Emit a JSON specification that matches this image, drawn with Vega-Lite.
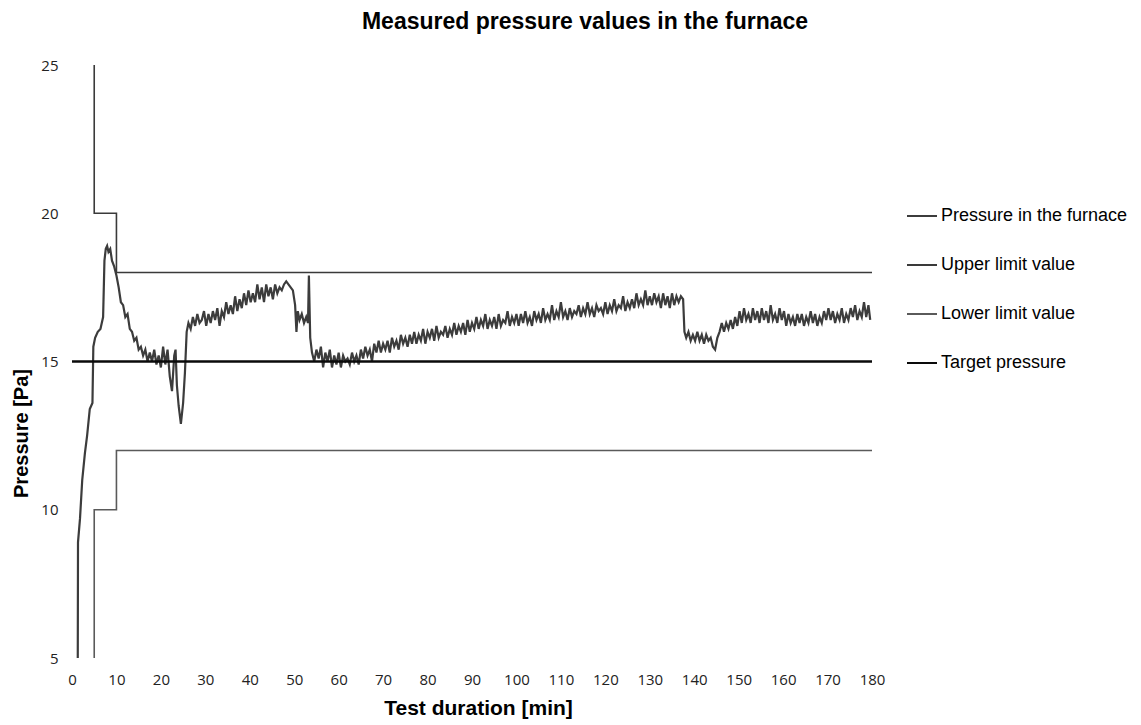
{
  "$schema": "https://vega.github.io/schema/vega-lite/v6.json",
  "width": 800,
  "height": 593,
  "autosize": {"type": "none"},
  "padding": {"left": 72, "top": 65, "right": 269, "bottom": 67},
  "background": "white",
  "title": {"text": "Measured pressure values in the furnace", "font": "Liberation Sans", "fontSize": 23, "fontWeight": "bold", "color": "#000", "anchor": "middle", "dx": 113, "offset": 24},
  "datasets": {
    "pressure": [
      {"t":1.3,"p":5.0},{"t":1.35,"p":8.9},{"t":1.8,"p":9.7},{"t":2.3,"p":11.0},{"t":2.9,"p":11.9},{"t":3.4,"p":12.5},{"t":4.0,"p":13.4},{"t":4.6,"p":13.6},{"t":4.8,"p":15.5},{"t":5.2,"p":15.8},{"t":5.8,"p":16.0},{"t":6.4,"p":16.1},{"t":7.0,"p":16.5},{"t":7.3,"p":18.4},{"t":7.6,"p":18.8},{"t":7.9,"p":18.9},{"t":8.2,"p":18.7},{"t":8.6,"p":18.8},{"t":9.0,"p":18.4},{"t":9.5,"p":18.2},{"t":10.0,"p":17.9},{"t":10.5,"p":17.5},{"t":11.0,"p":17.0},{"t":11.5,"p":16.9},{"t":12.0,"p":16.5},{"t":12.5,"p":16.6},{"t":13.0,"p":16.1},{"t":13.5,"p":16.0},{"t":14.0,"p":15.7},{"t":14.5,"p":15.8},{"t":15.0,"p":15.4},{"t":15.5,"p":15.5},{"t":16.0,"p":15.2},{"t":16.5,"p":15.4},{"t":17.0,"p":15.0},{"t":17.5,"p":15.3},{"t":18.0,"p":15.0},{"t":18.5,"p":15.4},{"t":19.0,"p":14.9},{"t":19.5,"p":15.2},{"t":20.0,"p":14.8},{"t":20.5,"p":15.5},{"t":21.0,"p":14.9},{"t":21.5,"p":15.4},{"t":22.0,"p":14.5},{"t":22.5,"p":14.0},{"t":23.0,"p":15.2},{"t":23.3,"p":15.4},{"t":23.6,"p":14.2},{"t":24.0,"p":13.5},{"t":24.5,"p":12.9},{"t":25.0,"p":13.6},{"t":25.4,"p":14.6},{"t":25.8,"p":16.0},{"t":26.2,"p":16.3},{"t":26.7,"p":16.1},{"t":27.2,"p":16.5},{"t":27.7,"p":16.2},{"t":28.2,"p":16.6},{"t":28.7,"p":16.3},{"t":29.2,"p":16.4},{"t":29.7,"p":16.7},{"t":30.2,"p":16.2},{"t":30.7,"p":16.6},{"t":31.2,"p":16.3},{"t":31.7,"p":16.7},{"t":32.2,"p":16.4},{"t":32.7,"p":16.8},{"t":33.2,"p":16.2},{"t":33.7,"p":16.7},{"t":34.2,"p":16.5},{"t":34.7,"p":17.0},{"t":35.2,"p":16.6},{"t":35.7,"p":16.9},{"t":36.2,"p":16.6},{"t":36.7,"p":17.2},{"t":37.2,"p":16.7},{"t":37.7,"p":17.1},{"t":38.2,"p":16.8},{"t":38.7,"p":17.3},{"t":39.2,"p":16.9},{"t":39.7,"p":17.4},{"t":40.2,"p":17.0},{"t":40.7,"p":17.3},{"t":41.2,"p":17.0},{"t":41.7,"p":17.6},{"t":42.2,"p":17.1},{"t":42.7,"p":17.5},{"t":43.2,"p":17.0},{"t":43.7,"p":17.6},{"t":44.2,"p":17.2},{"t":44.7,"p":17.5},{"t":45.2,"p":17.1},{"t":45.7,"p":17.6},{"t":46.2,"p":17.3},{"t":46.7,"p":17.5},{"t":47.2,"p":17.4},{"t":47.7,"p":17.6},{"t":48.2,"p":17.7},{"t":48.7,"p":17.6},{"t":49.2,"p":17.5},{"t":49.7,"p":17.4},{"t":50.2,"p":16.9},{"t":50.5,"p":16.0},{"t":50.8,"p":16.7},{"t":51.2,"p":16.4},{"t":51.7,"p":16.6},{"t":52.2,"p":16.3},{"t":52.7,"p":16.5},{"t":53.1,"p":16.3},{"t":53.3,"p":17.9},{"t":53.6,"p":15.8},{"t":54.0,"p":15.3},{"t":54.5,"p":15.0},{"t":55.0,"p":15.4},{"t":55.5,"p":15.1},{"t":56.0,"p":15.5},{"t":56.5,"p":14.8},{"t":57.0,"p":15.3},{"t":57.5,"p":15.0},{"t":58.0,"p":15.4},{"t":58.5,"p":14.8},{"t":59.0,"p":15.2},{"t":59.5,"p":14.9},{"t":60.0,"p":15.3},{"t":60.5,"p":14.8},{"t":61.0,"p":15.2},{"t":61.5,"p":15.0},{"t":62.0,"p":15.1},{"t":62.5,"p":14.9},{"t":63.0,"p":15.3},{"t":63.5,"p":15.0},{"t":64.0,"p":15.2},{"t":64.5,"p":14.9},{"t":65.0,"p":15.4},{"t":65.5,"p":15.1},{"t":66.0,"p":15.5},{"t":66.5,"p":15.2},{"t":67.0,"p":15.4},{"t":67.5,"p":15.0},{"t":68.0,"p":15.6},{"t":68.5,"p":15.3},{"t":69.0,"p":15.7},{"t":69.5,"p":15.3},{"t":70.0,"p":15.6},{"t":70.5,"p":15.4},{"t":71.0,"p":15.7},{"t":71.5,"p":15.3},{"t":72.0,"p":15.8},{"t":72.5,"p":15.5},{"t":73.0,"p":15.7},{"t":73.5,"p":15.4},{"t":74.0,"p":15.9},{"t":74.5,"p":15.6},{"t":75.0,"p":15.8},{"t":75.5,"p":15.5},{"t":76.0,"p":15.9},{"t":76.5,"p":15.6},{"t":77.0,"p":16.0},{"t":77.5,"p":15.6},{"t":78.0,"p":15.9},{"t":78.5,"p":15.7},{"t":79.0,"p":16.1},{"t":79.5,"p":15.6},{"t":80.0,"p":16.0},{"t":80.5,"p":15.8},{"t":81.0,"p":16.1},{"t":81.5,"p":15.7},{"t":82.0,"p":16.2},{"t":82.5,"p":15.8},{"t":83.0,"p":16.0},{"t":83.5,"p":15.9},{"t":84.0,"p":16.2},{"t":84.5,"p":15.8},{"t":85.0,"p":16.1},{"t":85.5,"p":15.9},{"t":86.0,"p":16.3},{"t":86.5,"p":15.9},{"t":87.0,"p":16.2},{"t":87.5,"p":16.0},{"t":88.0,"p":16.3},{"t":88.5,"p":15.9},{"t":89.0,"p":16.4},{"t":89.5,"p":16.0},{"t":90.0,"p":16.3},{"t":90.5,"p":16.1},{"t":91.0,"p":16.5},{"t":91.5,"p":16.1},{"t":92.0,"p":16.4},{"t":92.5,"p":16.2},{"t":93.0,"p":16.6},{"t":93.5,"p":16.1},{"t":94.0,"p":16.4},{"t":94.5,"p":16.2},{"t":95.0,"p":16.5},{"t":95.5,"p":16.1},{"t":96.0,"p":16.6},{"t":96.5,"p":16.2},{"t":97.0,"p":16.4},{"t":97.5,"p":16.3},{"t":98.0,"p":16.7},{"t":98.5,"p":16.2},{"t":99.0,"p":16.5},{"t":99.5,"p":16.3},{"t":100.0,"p":16.6},{"t":100.5,"p":16.2},{"t":101.0,"p":16.6},{"t":101.5,"p":16.3},{"t":102.0,"p":16.7},{"t":102.5,"p":16.3},{"t":103.0,"p":16.5},{"t":103.5,"p":16.2},{"t":104.0,"p":16.7},{"t":104.5,"p":16.4},{"t":105.0,"p":16.6},{"t":105.5,"p":16.3},{"t":106.0,"p":16.8},{"t":106.5,"p":16.4},{"t":107.0,"p":16.6},{"t":107.5,"p":16.4},{"t":108.0,"p":16.9},{"t":108.5,"p":16.4},{"t":109.0,"p":16.7},{"t":109.5,"p":16.5},{"t":110.0,"p":17.0},{"t":110.5,"p":16.5},{"t":111.0,"p":16.7},{"t":111.5,"p":16.4},{"t":112.0,"p":16.8},{"t":112.5,"p":16.5},{"t":113.0,"p":16.7},{"t":113.5,"p":16.6},{"t":114.0,"p":16.9},{"t":114.5,"p":16.5},{"t":115.0,"p":16.8},{"t":115.5,"p":16.6},{"t":116.0,"p":17.0},{"t":116.5,"p":16.6},{"t":117.0,"p":16.8},{"t":117.5,"p":16.5},{"t":118.0,"p":16.9},{"t":118.5,"p":16.7},{"t":119.0,"p":16.8},{"t":119.5,"p":16.6},{"t":120.0,"p":17.0},{"t":120.5,"p":16.6},{"t":121.0,"p":16.9},{"t":121.5,"p":16.7},{"t":122.0,"p":17.1},{"t":122.5,"p":16.7},{"t":123.0,"p":16.9},{"t":123.5,"p":16.8},{"t":124.0,"p":17.2},{"t":124.5,"p":16.7},{"t":125.0,"p":17.0},{"t":125.5,"p":16.8},{"t":126.0,"p":17.1},{"t":126.5,"p":16.8},{"t":127.0,"p":17.3},{"t":127.5,"p":16.9},{"t":128.0,"p":17.1},{"t":128.5,"p":16.9},{"t":129.0,"p":17.4},{"t":129.5,"p":16.9},{"t":130.0,"p":17.2},{"t":130.5,"p":16.9},{"t":131.0,"p":17.3},{"t":131.5,"p":17.0},{"t":132.0,"p":17.2},{"t":132.5,"p":16.8},{"t":133.0,"p":17.3},{"t":133.5,"p":16.9},{"t":134.0,"p":17.2},{"t":134.5,"p":16.8},{"t":135.0,"p":17.3},{"t":135.5,"p":16.9},{"t":136.0,"p":17.2},{"t":136.5,"p":17.0},{"t":137.0,"p":17.2},{"t":137.5,"p":17.1},{"t":137.8,"p":16.0},{"t":138.2,"p":15.8},{"t":138.7,"p":16.0},{"t":139.2,"p":15.7},{"t":139.7,"p":15.9},{"t":140.2,"p":15.7},{"t":140.7,"p":16.0},{"t":141.2,"p":15.7},{"t":141.7,"p":15.9},{"t":142.2,"p":15.6},{"t":142.7,"p":15.9},{"t":143.2,"p":15.7},{"t":143.7,"p":15.8},{"t":144.2,"p":15.5},{"t":144.7,"p":15.4},{"t":145.2,"p":15.8},{"t":145.7,"p":16.0},{"t":146.2,"p":16.3},{"t":146.7,"p":16.0},{"t":147.2,"p":16.3},{"t":147.7,"p":16.1},{"t":148.2,"p":16.4},{"t":148.7,"p":16.1},{"t":149.2,"p":16.5},{"t":149.7,"p":16.2},{"t":150.2,"p":16.7},{"t":150.7,"p":16.3},{"t":151.2,"p":16.8},{"t":151.7,"p":16.4},{"t":152.2,"p":16.6},{"t":152.7,"p":16.3},{"t":153.2,"p":16.8},{"t":153.7,"p":16.4},{"t":154.2,"p":16.7},{"t":154.7,"p":16.3},{"t":155.2,"p":16.8},{"t":155.7,"p":16.4},{"t":156.2,"p":16.7},{"t":156.7,"p":16.3},{"t":157.2,"p":16.9},{"t":157.7,"p":16.4},{"t":158.2,"p":16.6},{"t":158.7,"p":16.3},{"t":159.2,"p":16.8},{"t":159.7,"p":16.4},{"t":160.2,"p":16.7},{"t":160.7,"p":16.2},{"t":161.2,"p":16.6},{"t":161.7,"p":16.3},{"t":162.2,"p":16.5},{"t":162.7,"p":16.2},{"t":163.2,"p":16.6},{"t":163.7,"p":16.3},{"t":164.2,"p":16.6},{"t":164.7,"p":16.2},{"t":165.2,"p":16.5},{"t":165.7,"p":16.3},{"t":166.2,"p":16.7},{"t":166.7,"p":16.3},{"t":167.2,"p":16.6},{"t":167.7,"p":16.2},{"t":168.2,"p":16.5},{"t":168.7,"p":16.3},{"t":169.2,"p":16.7},{"t":169.7,"p":16.4},{"t":170.2,"p":16.8},{"t":170.7,"p":16.4},{"t":171.2,"p":16.7},{"t":171.7,"p":16.3},{"t":172.2,"p":16.6},{"t":172.7,"p":16.4},{"t":173.2,"p":16.8},{"t":173.7,"p":16.3},{"t":174.2,"p":16.6},{"t":174.7,"p":16.4},{"t":175.2,"p":16.8},{"t":175.7,"p":16.5},{"t":176.2,"p":16.9},{"t":176.7,"p":16.4},{"t":177.2,"p":16.7},{"t":177.7,"p":16.5},{"t":178.2,"p":17.0},{"t":178.7,"p":16.5},{"t":179.2,"p":16.9},{"t":179.6,"p":16.4}
    ],
    "limits": [
      {"s":"Upper limit value","o":1,"t":5,"p":25},{"s":"Upper limit value","o":2,"t":5,"p":20},{"s":"Upper limit value","o":3,"t":10,"p":20},{"s":"Upper limit value","o":4,"t":10,"p":18},{"s":"Upper limit value","o":5,"t":180,"p":18},
      {"s":"Lower limit value","o":1,"t":5,"p":5},{"s":"Lower limit value","o":2,"t":5,"p":10},{"s":"Lower limit value","o":3,"t":10,"p":10},{"s":"Lower limit value","o":4,"t":10,"p":12},{"s":"Lower limit value","o":5,"t":180,"p":12}
    ],
    "target": [
      {"t":0,"p":15},{"t":180,"p":15}
    ]
  },
  "encoding": {
    "x": {"field": "t", "type": "quantitative", "scale": {"domain": [0, 180], "nice": false, "zero": false},
      "axis": {"title": "Test duration [min]", "values": [0,10,20,30,40,50,60,70,80,90,100,110,120,130,140,150,160,170,180], "labelFlush": false, "labelOverlap": false, "titleX": 406, "titleY": 50, "titleBaseline": "middle", "titleAlign": "center", "titleFontSize": 21}},
    "y": {"field": "p", "type": "quantitative", "scale": {"domain": [5, 25], "nice": false, "zero": false},
      "axis": {"title": "Pressure [Pa]", "values": [5,10,15,20,25], "labelFlush": false, "labelOverlap": false, "titleX": -51, "titleY": 368, "titleBaseline": "middle", "titleAlign": "center", "titleAngle": -90}}
  },
  "layer": [
    {
      "data": {"name": "pressure"},
      "mark": {"type": "line", "strokeWidth": 2.2},
      "encoding": {"color": {"datum": "Pressure in the furnace", "type": "nominal",
        "scale": {"domain": ["Pressure in the furnace", "Upper limit value", "Lower limit value", "Target pressure"], "range": ["#3c3c3c", "#3a3a3a", "#5a5a5a", "#0a0a0a"]},
        "legend": {"values": ["Pressure in the furnace", "Upper limit value", "Lower limit value", "Target pressure"]}}}
    },
    {
      "data": {"name": "limits"},
      "mark": {"type": "line", "strokeWidth": 1.6},
      "encoding": {"color": {"field": "s", "type": "nominal"}, "order": {"field": "o"}}
    },
    {
      "data": {"name": "target"},
      "mark": {"type": "line", "strokeWidth": 2.5},
      "encoding": {"color": {"datum": "Target pressure", "type": "nominal"}}
    }
  ],
  "resolve": {"scale": {"color": "shared"}},
  "config": {
    "view": {"stroke": null},
    "axis": {"domain": false, "ticks": false, "grid": false, "labelFont": "Open Sans", "labelFontSize": 15, "labelColor": "#222", "titleFont": "Liberation Sans", "titleFontSize": 20, "titleFontWeight": "bold", "titleColor": "#000"},
    "axisX": {"labelPadding": 14},
    "axisY": {"labelPadding": 14},
    "legend": {"orient": "none", "legendX": 834, "legendY": 135, "padding": 0, "title": null, "symbolType": "stroke", "symbolSize": 900, "symbolStrokeWidth": 2, "labelFont": "Liberation Sans", "labelFontSize": 18, "labelColor": "#000", "labelOffset": 3, "rowPadding": 24, "labelLimit": 400}
  }
}
